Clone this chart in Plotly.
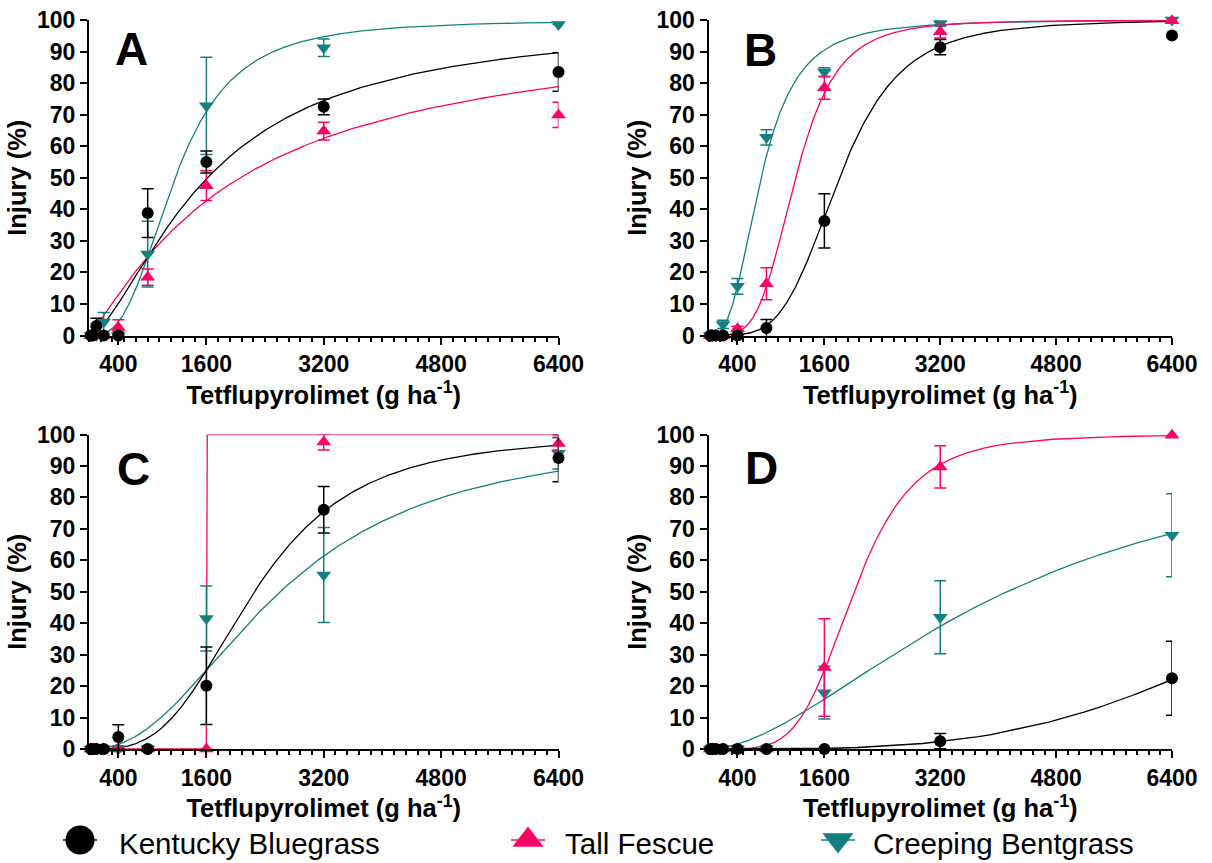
import numpy as np
import plotly.graph_objects as go

# ---------------- data ----------------
doses = [25, 50, 100, 200, 400, 800, 1600, 3200, 6400]
species = ["Kentucky Bluegrass", "Tall Fescue", "Creeping Bentgrass"]
colors = ["#000000", "#FF0066", "#128080"]
symbols = ["circle", "triangle-up", "triangle-down"]
panel_labels = ["A", "B", "C", "D"]
x_tickvals = [400, 1600, 3200, 4800, 6400]
y_tickvals = [0, 10, 20, 30, 40, 50, 60, 70, 80, 90, 100]

# Panel A  (means and SE, % injury)
a_kb = [0, 0, 3.0, 0, 0, 38.8, 55.0, 72.5, 83.5]
a_kb_err = [0, 0, 2.5, 0, 0, 7.7, 3.5, 2.5, 6.1]
a_tf = [0, 0, 0, 0, 2.5, 18.5, 47.5, 64.8, 69.9]
a_tf_err = [0, 0, 0, 0, 2.5, 2.6, 4.7, 2.8, 4.0]
a_cb = [0, 0, 0, 4.3, 0, 25.8, 72.8, 91.2, 98.6]
a_cb_err = [1.2, 0, 0, 3.0, 1.2, 10.4, 15.4, 2.8, 0]

# Panel B
b_kb = [0, 0, 0, 0, 0, 2.4, 36.3, 91.4, 95.1]
b_kb_err = [0, 0, 0, 0, 0, 2.7, 8.6, 2.4, 0]
b_tf = [0, 0, 0, 0, 2.1, 16.4, 78.5, 96.3, 99.8]
b_tf_err = [0, 0, 0, 0, 0.8, 5.1, 3.6, 2.0, 0]
b_cb = [0, 0, 0, 3.5, 15.6, 62.8, 83.5, 98.8, 100]
b_cb_err = [0, 0, 0, 1.3, 2.5, 2.4, 1.4, 0.8, 0]

# Panel C
c_kb = [0, 0, 0, 0, 3.8, 0, 20.1, 76.1, 92.5]
c_kb_err = [0, 0, 0, 0, 3.9, 0, 12.3, 7.4, 7.5]
c_tf = [0, 0, 0, 0, 0, 0, 0, 97.6, 97.1]
c_tf_err = [0, 0, 0, 0, 0, 0, 0, 2.5, 2.0]
c_cb = [0, 0, 0, 0, 0, 0, 41.5, 55.3, 94.0]
c_cb_err = [1.0, 1.0, 1.0, 1.0, 1.0, 1.0, 10.3, 15.1, 5.0]

# Panel D
d_kb = [0, 0, 0, 0, 0, 0, 0, 2.5, 22.5]
d_kb_err = [0, 0, 0, 0, 0, 0, 0, 2.4, 11.8]
d_tf = [0, 0, 0, 0, 0, 0, 25.9, 89.7, 99.8]
d_tf_err = [0, 0, 0, 0, 0, 0, 15.5, 6.7, 0]
d_cb = [0, 0, 0, 0, 0, 0, 17.9, 41.9, 68.0]
d_cb_err = [1.0, 1.0, 1.0, 1.0, 1.0, 1.0, 8.4, 11.6, 13.2]

# Fitted log-logistic parameters per panel [KB, TF, CB]
a_ed50 = [1614, 2060, 1172]
a_slope = [1.566, 1.161, 2.878]
b_ed50 = [1805, 1201, 725]
b_slope = [4.197, 4.19, 2.85]
c_ed50 = [2253, 1600.5, 2605]
c_slope = [3.209, 4000, 2.254]
d_ed50 = [9105, 2008, 4118]
d_slope = [3.585, 4.84, 1.77]
upper = [100, 100, 100]

panels = [
    ([a_kb, a_tf, a_cb], [a_kb_err, a_tf_err, a_cb_err], a_ed50, a_slope),
    ([b_kb, b_tf, b_cb], [b_kb_err, b_tf_err, b_cb_err], b_ed50, b_slope),
    ([c_kb, c_tf, c_cb], [c_kb_err, c_tf_err, c_cb_err], c_ed50, c_slope),
    ([d_kb, d_tf, d_cb], [d_kb_err, d_tf_err, d_cb_err], d_ed50, d_slope),
]

# ---------------- layout geometry ----------------
W, H = 1212, 863
x_dom_left = [89 / W, 558.5 / W]
x_dom_right = [708.5 / W, 1172 / W]
y_dom_top = [1 - 335.5 / H, 1 - 20 / H]
y_dom_bot = [1 - 749 / H, 1 - 434.5 / H]
doms = [(x_dom_left, y_dom_top), (x_dom_right, y_dom_top),
        (x_dom_left, y_dom_bot), (x_dom_right, y_dom_bot)]
letter_pos = [(131, 48.5), (760, 50), (133, 469), (761, 468)]

FONT = "Liberation Sans, Arial, sans-serif"


def loglogistic(x, ed50, slope, top):
    z = np.clip(slope * (np.log(ed50) - np.log(x)), -700, 700)
    return top / (1 + np.exp(z))


x_fit = np.linspace(doses[0], doses[-1], 2500)

fig = go.Figure()
order = [2, 1, 0]
for p, (vals, errs, ed50s, slopes) in enumerate(panels):
    sfx = "" if p == 0 else str(p + 1)
    xa, ya = "x" + sfx, "y" + sfx
    for s in order:
        fig.add_trace(go.Scatter(
            x=x_fit, y=loglogistic(x_fit, ed50s[s], slopes[s], upper[s]),
            mode="lines", line=dict(color=colors[s], width=1.3),
            xaxis=xa, yaxis=ya, showlegend=False, hoverinfo="skip"))
    for s in order:
        fig.add_trace(go.Scatter(
            x=doses, y=vals[s], mode="markers",
            marker=dict(symbol=symbols[s], color=colors[s], size=12 if s == 0 else 13,
                        line=dict(width=0)),
            error_y=dict(type="data", array=errs[s], visible=True,
                         color=colors[s], thickness=1.5, width=6),
            cliponaxis=False, xaxis=xa, yaxis=ya, showlegend=False,
            name=species[s]))

axis_common = dict(showline=True, linecolor="black", linewidth=2,
                   ticks="outside", ticklen=7, tickwidth=2, tickcolor="black",
                   showgrid=False, zeroline=False, automargin=False,
                   tickfont=dict(family=FONT, size=23, color="black", weight="bold"))

layout = dict(width=W, height=H, margin=dict(l=0, r=0, t=0, b=0, pad=0, autoexpand=False),
              paper_bgcolor="white", plot_bgcolor="white", showlegend=False)

for p in range(4):
    sfx = "" if p == 0 else str(p + 1)
    xd, yd = doms[p]
    layout["xaxis" + sfx] = dict(
        axis_common, domain=xd, anchor="y" + sfx, range=[0, 6400],
        tickmode="array", tickvals=x_tickvals,
        minor=dict(ticks="outside", ticklen=4, tickwidth=1.5, tickcolor="black",
                   tickmode="linear", tick0=0, dtick=160, showgrid=False),
        title=dict(text="Tetflupyrolimet (g ha<sup>-1</sup>)", standoff=5,
                   font=dict(family=FONT, size=25.5, color="black", weight="bold")))
    layout["yaxis" + sfx] = dict(
        axis_common, domain=yd, anchor="x" + sfx, range=[0, 100],
        tickmode="array", tickvals=y_tickvals,
        title=dict(text="Injury (%)", standoff=3,
                   font=dict(family=FONT, size=25.5, color="black", weight="bold")))

# legend axis (hidden)
layout["xaxis5"] = dict(domain=[0, 1], range=[0, W], visible=False, anchor="y5",
                        automargin=False)
layout["yaxis5"] = dict(domain=[0, 2 * (H - 840) / H], range=[0, 1], visible=False,
                        anchor="x5", automargin=False)

fig.update_layout(**layout)

legend_marker_x = [80, 528, 838]
legend_text_x = [117, 563, 871]
legend_sizes = [29, 27, 27]
for s in range(3):
    fig.add_trace(go.Scatter(
        x=[legend_marker_x[s]], y=[0.5], mode="markers",
        marker=dict(symbol=symbols[s], color=colors[s], size=legend_sizes[s]),
        error_x=dict(type="data", array=[17], color=colors[s], thickness=1.5, width=0),
        cliponaxis=False, xaxis="x5", yaxis="y5", showlegend=False, hoverinfo="skip"))
    fig.add_annotation(x=legend_text_x[s] / W, y=1 - 843 / H, xref="paper", yref="paper",
                       text=species[s], showarrow=False, xanchor="left", yanchor="middle",
                       font=dict(family=FONT, size=29.5, color="black"))

for p in range(4):
    lx, ly = letter_pos[p]
    fig.add_annotation(x=lx / W, y=1 - ly / H, xref="paper", yref="paper",
                       text=panel_labels[p], showarrow=False, xanchor="center",
                       yanchor="middle",
                       font=dict(family=FONT, size=46, color="black", weight="bold"))

fig.write_html("out.html", config={"displayModeBar": False},
               post_script="document.body.style.margin='0px';")
